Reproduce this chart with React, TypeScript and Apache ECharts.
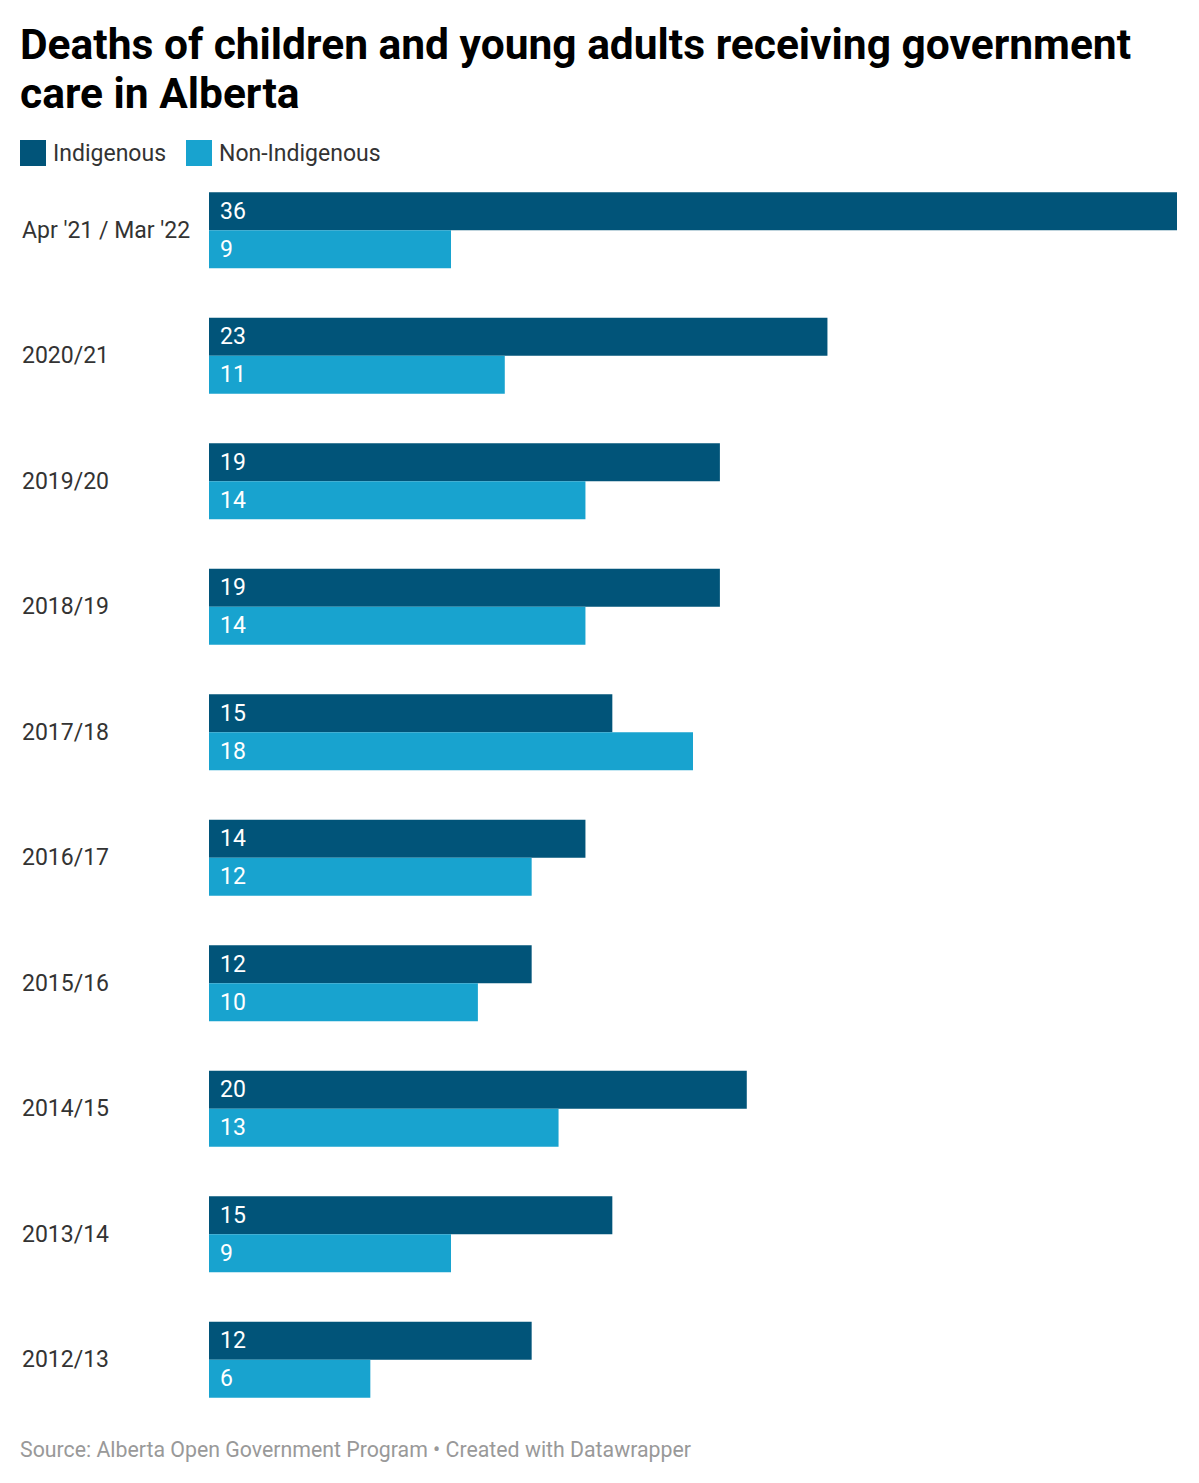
import React, { useEffect, useRef } from "react";
import * as echarts from "echarts";

const categories = [
  "Apr '21 / Mar '22",
  "2020/21",
  "2019/20",
  "2018/19",
  "2017/18",
  "2016/17",
  "2015/16",
  "2014/15",
  "2013/14",
  "2012/13",
];
const indigenous = [36, 23, 19, 19, 15, 14, 12, 20, 15, 12];
const nonIndigenous = [9, 11, 14, 14, 18, 12, 10, 13, 9, 6];

const DARK = "#015479";
const LIGHT = "#18a3cf";

const App: React.FC = () => {
  const chartRef = useRef<HTMLDivElement>(null);

  useEffect(() => {
    document.body.style.margin = "0";
    if (!chartRef.current) return;
    const chart = echarts.init(chartRef.current, undefined, { renderer: "svg" });

    // value labels inside the bars
    const labelStyle = {
      show: true,
      position: "insideLeft" as const,
      distance: 11,
      color: "#fff",
      fontSize: 23,
      fontFamily: "Roboto",
    };

    chart.setOption({
      animation: false,
      backgroundColor: "#fff",
      title: {
        text: "Deaths of children and young adults receiving government\ncare in Alberta",
        left: 20,
        top: 20,
        padding: 0,
        textStyle: {
          fontFamily: "Roboto",
          fontWeight: "bold",
          fontSize: 42.5,
          lineHeight: 49,
          color: "#000",
        },
      },
      legend: {
        left: 20,
        top: 140,
        padding: 0,
        icon: "rect",
        itemWidth: 26,
        itemHeight: 26,
        itemGap: 20,
        textStyle: { fontFamily: "Roboto", fontSize: 23, color: "#333", padding: [0, 0, 0, 2] },
        data: ["Indigenous", "Non-Indigenous"],
      },
      grid: { left: 209, right: 22, top: 167.5, height: 1255, containLabel: false },
      xAxis: {
        type: "value",
        min: 0,
        max: 36,
        show: false,
      },
      yAxis: {
        type: "category",
        inverse: true,
        data: categories,
        axisLine: { show: false },
        axisTick: { show: false },
        axisLabel: {
          align: "left",
          margin: 187,
          fontFamily: "Roboto",
          fontSize: 23,
          color: "#333",
        },
      },
      series: [
        {
          name: "Indigenous",
          type: "bar",
          data: indigenous,
          barWidth: 38,
          barGap: "0%",
          itemStyle: { color: DARK },
          label: labelStyle,
        },
        {
          name: "Non-Indigenous",
          type: "bar",
          data: nonIndigenous,
          barWidth: 38,
          barGap: "0%",
          itemStyle: { color: LIGHT },
          label: labelStyle,
        },
      ],
      graphic: [
        {
          type: "text",
          left: 20,
          top: 1439,
          style: {
            text: "Source: Alberta Open Government Program • Created with Datawrapper",
            fontFamily: "Roboto",
            fontSize: 21.3,
            fill: "#999",
          },
        },
      ],
    });

    return () => chart.dispose();
  }, []);

  return <div ref={chartRef} style={{ width: 1199, height: 1483 }} />;
};

export default App;
